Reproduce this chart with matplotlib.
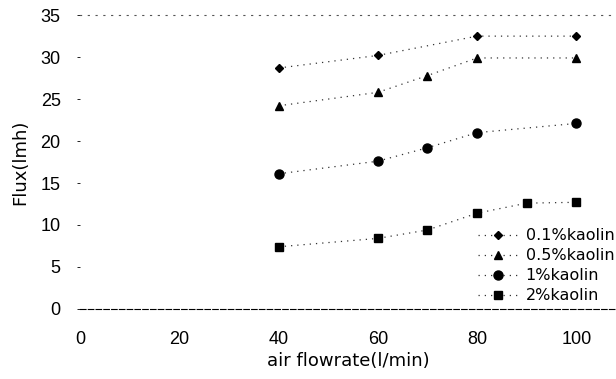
import matplotlib
matplotlib.use("Agg")
import matplotlib.pyplot as plt

plt.rcParams['font.family'] = ['Liberation Sans', 'DejaVu Sans']

x_01 = [40, 60, 80, 100]
y_01 = [28.7, 30.2, 32.5, 32.5]
x_05 = [40, 60, 70, 80, 100]
y_05 = [24.2, 25.8, 27.8, 29.9, 29.9]
x_1 = [40, 60, 70, 80, 100]
y_1 = [16.1, 17.6, 19.2, 21.0, 22.1]
x_2 = [40, 60, 70, 80, 90, 100]
y_2 = [7.4, 8.4, 9.4, 11.4, 12.6, 12.7]
labels = ["0.1%kaolin", "0.5%kaolin", "1%kaolin", "2%kaolin"]
xticks = [0, 20, 40, 60, 80, 100]
yticks = [0, 5, 10, 15, 20, 25, 30, 35]

fig = plt.figure(figsize=(6.16, 3.79), dpi=100)
ax = fig.add_axes([0.13, 0.185, 0.87, 0.775])

series = [(x_01, y_01, 'D', 4.5), (x_05, y_05, '^', 5.5), (x_1, y_1, 'o', 6.5), (x_2, y_2, 's', 5.5)]
for (xs, ys, m, ms), lab in zip(series, labels):
    ax.plot(xs, ys, linestyle=(0, (1, 4)), linewidth=0.9, color='#333333',
            marker=m, markersize=ms, markerfacecolor='black', markeredgecolor='black',
            label=lab)

ax.set_xlim(0, 108)
ax.set_ylim(0, 35)
ax.set_xticks(xticks)
ax.set_yticks(yticks)
for s in ['left', 'right']:
    ax.spines[s].set_visible(False)
ax.spines['top'].set_linestyle((0, (1, 6)))
ax.spines['top'].set_linewidth(0.8)
ax.spines['top'].set_color('#555555')
ax.spines['bottom'].set_linestyle((0, (5, 2)))
ax.spines['bottom'].set_linewidth(0.8)
ax.tick_params(axis='x', length=0, pad=16, labelsize=13)
ax.tick_params(axis='y', length=2, width=0.6, pad=12, labelsize=13)
ax.set_xlabel("air flowrate(l/min)", fontsize=13, family=['DejaVu Sans'], labelpad=3)
ax.set_ylabel("Flux(lmh)", fontsize=13, family=['DejaVu Sans'], labelpad=8)

leg = fig.legend(loc='upper left', bbox_to_anchor=(0.765, 0.415), frameon=False,
                 prop={'family': ['DejaVu Sans'], 'size': 11.5},
                 handlelength=2.6, handletextpad=0.4, labelspacing=0.32,
                 borderaxespad=0)

fig.savefig("out.png", dpi=100)
